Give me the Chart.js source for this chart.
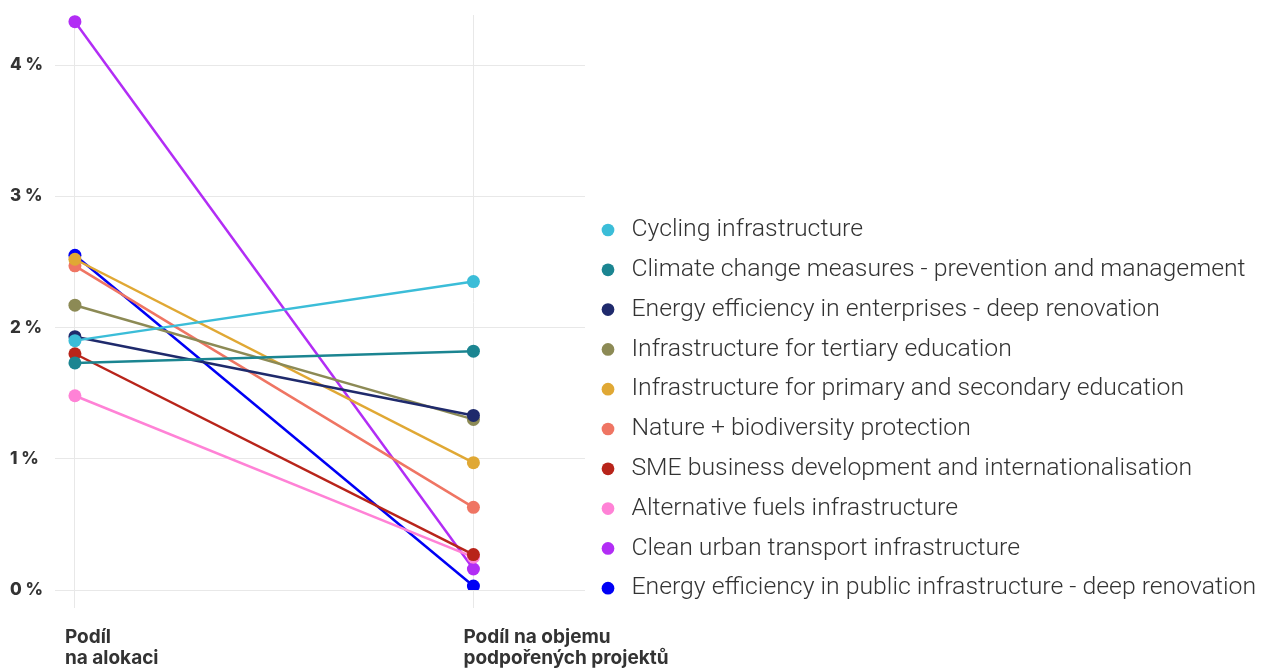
<!DOCTYPE html>
<html>
<head>
<meta charset="utf-8">
<script src="https://cdn.jsdelivr.net/npm/chart.js@4"></script>
<style>
  html, body { margin: 0; padding: 0; background: #ffffff; }
  #wrap { width: 1264px; height: 670px; position: relative; }
</style>
</head>
<body>
<div id="wrap"><canvas id="c"></canvas></div>
<script>
// ---- data ----
const categories = [["Podíl", "na alokaci"], ["Podíl na objemu", "podpořených projektů"]];
const seriesNames = [
  "Cycling infrastructure",
  "Climate change measures - prevention and management",
  "Energy efficiency in enterprises - deep renovation",
  "Infrastructure for tertiary education",
  "Infrastructure for primary and secondary education",
  "Nature + biodiversity protection",
  "SME business development and internationalisation",
  "Alternative fuels infrastructure",
  "Clean urban transport infrastructure",
  "Energy efficiency in public infrastructure - deep renovation"
];
const shareAllocation = [1.90, 1.73, 1.93, 2.17, 2.52, 2.47, 1.80, 1.48, 4.33, 2.55];
const shareProjects   = [2.35, 1.82, 1.33, 1.30, 0.97, 0.63, 0.27, 0.25, 0.16, 0.03];
const yTicks = [0, 1, 2, 3, 4];
const seriesColors = ["#3bbdd8", "#1b8591", "#1f2a6c", "#8c8a55", "#e0a834", "#ef7563", "#b8241a", "#ff82d6", "#b22df5", "#0000f5"];

const datasets = seriesNames.map((name, i) => ({
  label: name,
  data: [
    { x: 0, y: shareAllocation[i] },
    { x: 1, y: shareProjects[i] }
  ],
  borderColor: seriesColors[i],
  backgroundColor: seriesColors[i],
  pointBackgroundColor: seriesColors[i],
  pointBorderColor: seriesColors[i],
  borderWidth: 2.5,
  pointRadius: 6.5,
  pointHoverRadius: 6.5,
  pointBorderWidth: 0,
  tension: 0
}));

const legendTweak = {
  id: 'legendTweak',
  afterInit(chart) {
    const lg = chart.legend;
    if (lg && !lg._tweaked) {
      const fit = lg.fit;
      lg.fit = function () { fit.call(this); this.width = 679; };
      lg._tweaked = true;
    }
  },
  afterLayout(chart) {
    const lg = chart.legend;
    lg.left = 582;
    lg.top = 202.6;
    lg.bottom = 670;
  }
};

new Chart(document.getElementById('c'), {
  type: 'line',
  data: { datasets },
  plugins: [legendTweak],
  options: {
    responsive: true,
    maintainAspectRatio: false,
    animation: false,
    layout: { padding: { left: 10, top: 15, right: 0, bottom: 0 } },
    plugins: {
      tooltip: { enabled: false },
      legend: {
        position: 'right',
        align: 'start',
        labels: {
          usePointStyle: true,
          pointStyle: 'circle',
          boxWidth: 22,
          boxHeight: 9,
          padding: 15,
          color: '#333333',
          font: { family: 'Roboto', size: 24.8, weight: '300' }
        }
      }
    },
    scales: {
      x: {
        type: 'linear',
        min: -0.05,
        max: 1.28,
        afterBuildTicks(scale) { scale.ticks = [{ value: 0 }, { value: 1 }]; },
        afterFit(scale) { scale.height = 80; },
        grid: { color: '#e8e8e8', lineWidth: 1, drawTicks: true, tickLength: 18, tickColor: '#e8e8e8' },
        border: { display: false },
        ticks: {
          align: 'start',
          labelOffset: -10,
          padding: 18,
          color: '#333333',
          font: { family: 'Inter', size: 19, weight: '700', lineHeight: 1.15 },
          callback: (v) => categories[v]
        }
      },
      y: {
        min: 0,
        max: 4.381,
        afterBuildTicks(scale) { scale.ticks = yTicks.map(v => ({ value: v })); },
        afterFit(scale) { scale.width = 45; },
        grid: { color: '#e8e8e8', lineWidth: 1, drawTicks: false },
        border: { display: false },
        ticks: {
          crossAlign: 'far',
          padding: 4,
          color: '#333333',
          font: { family: 'Inter', size: 17, weight: '800' },
          callback: (v) => v + ' %'
        }
      }
    }
  }
});
</script>
</body>
</html>
